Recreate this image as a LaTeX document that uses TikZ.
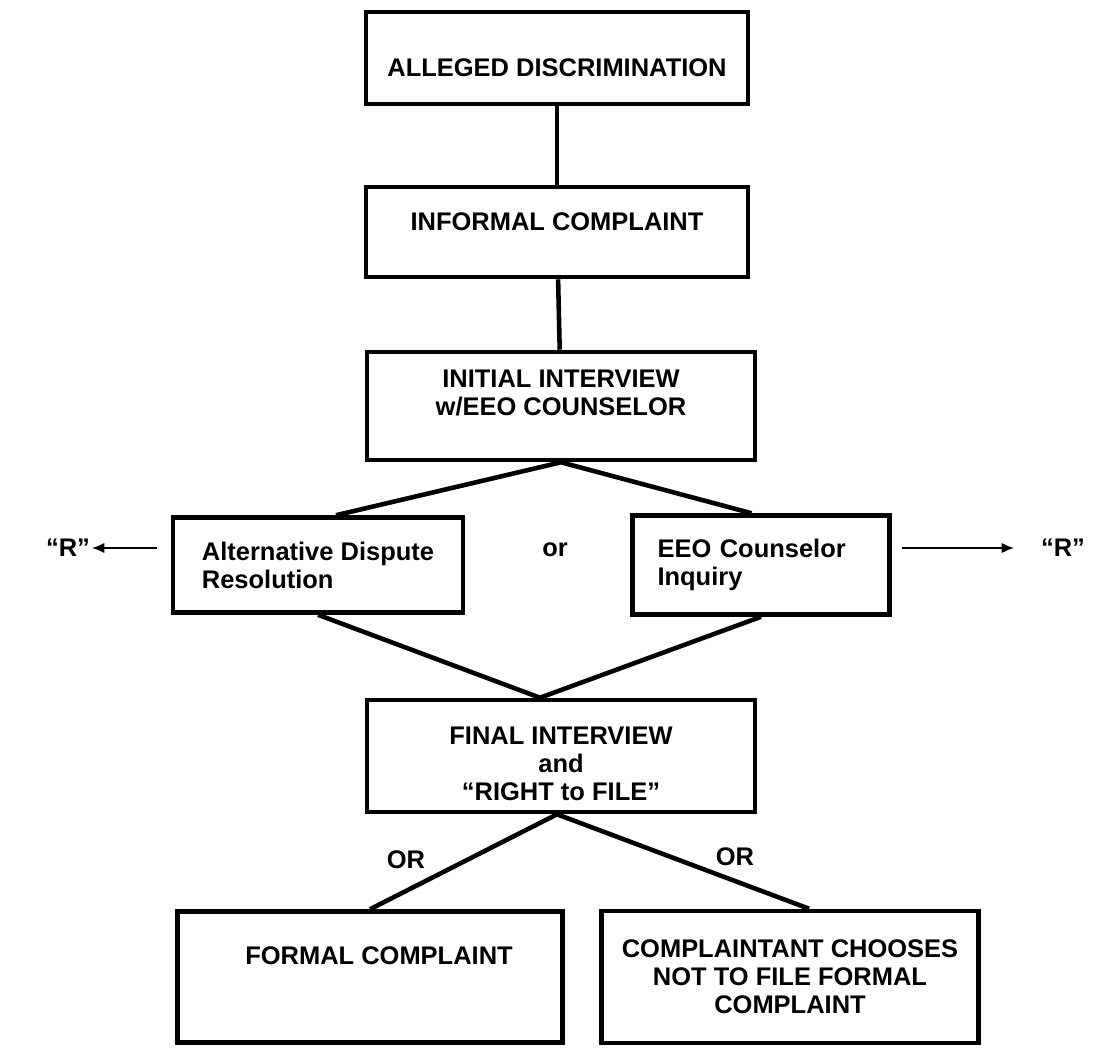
\documentclass[tikz,border=0pt]{standalone}
\usepackage{fontspec}
\setmainfont{Liberation Sans}
\usetikzlibrary{arrows.meta}

% invisible strut: height #1 above, depth #2 below the baseline
\newcommand{\vpad}[2]{\rule[-#2]{0pt}{\dimexpr#1+#2\relax}}

\begin{document}
\begin{tikzpicture}[x=0.02cm, y=-0.02cm,
    box/.style={draw, line width=2.6pt, align=center, inner sep=0pt,
        font=\fontsize{14.5}{16}\selectfont\bfseries},
    link/.style={line width=2.6pt},
    txt/.style={font=\fontsize{14.5}{16}\selectfont\bfseries, inner sep=1pt},
    tip/.style={line width=1.1pt, -{Latex[length=7pt,width=6pt]}}]
    \useasboundingbox (0,0) rectangle (1093,1049);

    % top column
    \node[box, minimum width=7.64cm, minimum height=1.84cm] (alleged) at (557,58)
        {\vpad{0.85cm}{0.12cm}ALLEGED DISCRIMINATION};
    \node[box, minimum width=7.64cm, minimum height=1.8cm] (informal) at (557,232)
        {\vpad{0.4cm}{0.47cm}INFORMAL COMPLAINT};
    \node[box, minimum width=7.76cm, minimum height=2.16cm] (initial) at (561,406)
        {\vpad{0.4cm}{0pt}INITIAL INTERVIEW\\ w/EEO COUNSELOR\vpad{0pt}{0.59cm}};
    \draw[link] (alleged) -- (informal);
    \draw[link] (informal) -- (initial);

    % the two ways out of the interview
    \node[box, align=left, minimum width=5.8cm, minimum height=1.9cm] (adr) at (318,565)
        {Alternative Dispute\\ Resolution};
    \node[box, align=left, text width=4.14cm, minimum width=5.14cm, minimum height=1.98cm] (eeo) at (761,565)
        {EEO Counselor\\ Inquiry};
    \node[txt] (or) at (555,550) {or};
    \draw[link] ([xshift=0.36cm]adr.north) -- (initial.south) -- ([xshift=-0.19cm]eeo.north);

    % resolution
    \node[txt] (rL) at (68,548) {“R”};
    \node[txt] (rR) at (1063,548) {“R”};
    \coordinate (aL) at (157,548);
    \coordinate (aR) at (902,548);
    \draw[tip] (aL) -- (rL);
    \draw[tip, shorten >=0.5cm] (aR) -- (rR);

    % final interview
    \node[box, minimum width=7.76cm, minimum height=2.24cm] (final) at (561,756)
        {\vpad{0.77cm}{0pt}FINAL INTERVIEW\\ and\\ “RIGHT to FILE”\vpad{0pt}{0.12cm}};
    \draw[link] (adr.south) -- ([xshift=-0.42cm]final.north) -- (eeo.south);

    % formal or not
    \node[box, minimum width=7.7cm, minimum height=2.62cm] (formal) at (370,977)
        {\hspace*{0.36cm}\vpad{0.4cm}{0.91cm}FORMAL COMPLAINT};
    \node[box, minimum width=7.54cm, minimum height=2.64cm] (choose) at (790,977)
        {COMPLAINTANT CHOOSES\\ NOT TO FILE FORMAL\\ COMPLAINT};
    \draw[link] (formal.north) -- ([xshift=-0.08cm]final.south) -- ([xshift=0.38cm]choose.north);
    \node[txt] (orL) at (406,860) {OR};
    \node[txt] (orR) at (735,857) {OR};
\end{tikzpicture}
\end{document}
